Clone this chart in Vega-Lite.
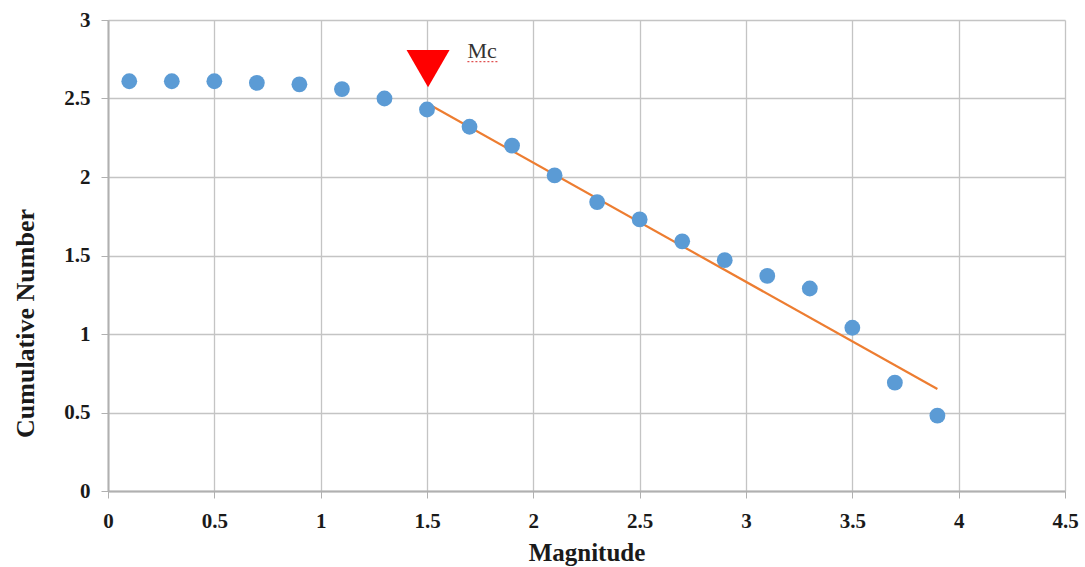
{
  "$schema": "https://vega.github.io/schema/vega-lite/v6.json",
  "autosize": {"type": "none"},
  "padding": {"left": 108, "top": 20, "right": 20, "bottom": 76},
  "width": 957,
  "height": 471,
  "background": "white",
  "config": {
    "view": {"stroke": null},
    "font": "Liberation Serif",
    "axis": {
      "labelFont": "Liberation Serif",
      "labelFontWeight": "bold",
      "labelFontSize": 21,
      "labelColor": "#1a1a1a",
      "titleFont": "Liberation Serif",
      "titleFontWeight": "bold",
      "titleColor": "#1a1a1a",
      "gridColor": "#c4c4c4",
      "gridWidth": 1.3,
      "domainColor": "#b0b0b0",
      "domainWidth": 2,
      "tickColor": "#b0b0b0",
      "tickSize": 7,
      "format": "~g"
    }
  },
  "datasets": {
    "obs": [
      {"m": 0.1, "n": 2.61}, {"m": 0.3, "n": 2.61}, {"m": 0.5, "n": 2.61},
      {"m": 0.7, "n": 2.60}, {"m": 0.9, "n": 2.59}, {"m": 1.1, "n": 2.56},
      {"m": 1.3, "n": 2.50}, {"m": 1.5, "n": 2.43}, {"m": 1.7, "n": 2.32},
      {"m": 1.9, "n": 2.20}, {"m": 2.1, "n": 2.01}, {"m": 2.3, "n": 1.84},
      {"m": 2.5, "n": 1.73}, {"m": 2.7, "n": 1.59}, {"m": 2.9, "n": 1.47},
      {"m": 3.1, "n": 1.37}, {"m": 3.3, "n": 1.29}, {"m": 3.5, "n": 1.04},
      {"m": 3.7, "n": 0.69}, {"m": 3.9, "n": 0.48}
    ],
    "fit": [{"m": 1.5, "n": 2.47}, {"m": 3.9, "n": 0.65}],
    "mc": [{"m": 1.505, "n": 2.69, "label": "Mc", "lm": 1.69, "ln": 2.755}],
    "squig": [{"m": 1.69, "n": 2.735, "m2": 1.84}]
  },
  "layer": [
    {
      "data": {"name": "fit"},
      "mark": {"type": "line", "color": "#ed7d31", "strokeWidth": 2.2},
      "encoding": {
        "x": {
          "field": "m", "type": "quantitative",
          "scale": {"domain": [0, 4.5], "nice": false},
          "axis": {"title": "Magnitude", "titleFontSize": 25, "values": [0, 0.5, 1, 1.5, 2, 2.5, 3, 3.5, 4, 4.5], "labelPadding": 12, "titlePadding": 9, "labelFlush": false}
        },
        "y": {
          "field": "n", "type": "quantitative",
          "scale": {"domain": [0, 3], "nice": false},
          "axis": {"title": "Cumulative Number", "titleFontSize": 26, "titleX": -75, "titleY": 303, "titleBaseline": "alphabetic", "titleAngle": 270, "values": [0, 0.5, 1, 1.5, 2, 2.5, 3], "labelPadding": 11, "domain": true}
        }
      }
    },
    {
      "data": {"name": "obs"},
      "mark": {"type": "point", "filled": true, "shape": "circle", "size": 250, "color": "#5b9bd5", "opacity": 1},
      "encoding": {
        "x": {"field": "m", "type": "quantitative"},
        "y": {"field": "n", "type": "quantitative"}
      }
    },
    {
      "data": {"name": "mc"},
      "mark": {"type": "point", "filled": true, "shape": "triangle-down", "size": 1850, "color": "#ff0000", "opacity": 1},
      "encoding": {
        "x": {"field": "m", "type": "quantitative"},
        "y": {"field": "n", "type": "quantitative"}
      }
    },
    {
      "data": {"name": "mc"},
      "mark": {"type": "text", "align": "left", "baseline": "alphabetic", "fontSize": 22, "font": "Liberation Serif", "color": "#333333"},
      "encoding": {
        "x": {"field": "lm", "type": "quantitative"},
        "y": {"field": "ln", "type": "quantitative"},
        "text": {"field": "label"}
      }
    },
    {
      "data": {"name": "squig"},
      "mark": {"type": "rule", "color": "#e05050", "strokeWidth": 1.2, "strokeDash": [2, 2]},
      "encoding": {
        "x": {"field": "m", "type": "quantitative"},
        "x2": {"field": "m2"},
        "y": {"field": "n", "type": "quantitative"}
      }
    }
  ]
}
